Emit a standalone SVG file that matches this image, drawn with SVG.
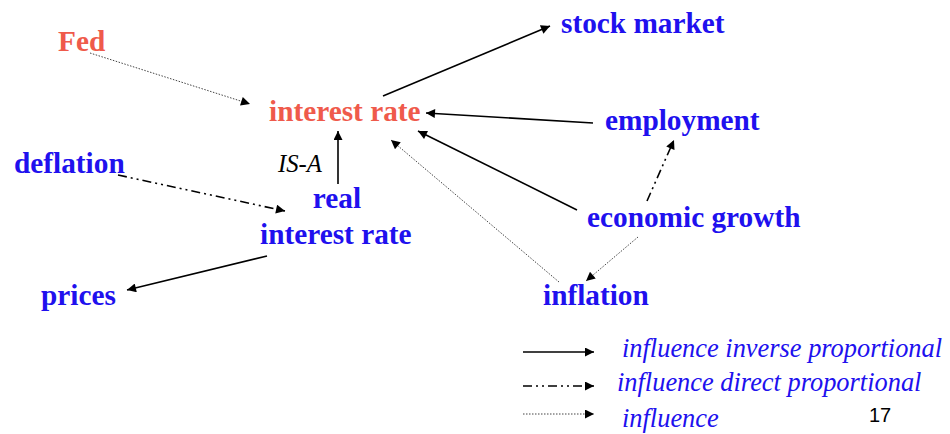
<svg xmlns="http://www.w3.org/2000/svg" width="950" height="434" viewBox="0 0 950 434">
<style>
.n{font-family:"Liberation Serif","Times New Roman",serif;font-weight:bold;font-size:29.3px}
.red{fill:#ef5a4b}
.blue{fill:#2010ee}
.lg{font-family:"Liberation Serif","Times New Roman",serif;font-style:italic;font-size:26.4px;fill:#2010ee}
.solid{stroke:#000;stroke-width:1.6;fill:none}
.dot{stroke:#444;stroke-width:1;stroke-dasharray:1.5 1.5;fill:none}
.dd{stroke:#000;stroke-width:1.6;stroke-dasharray:9 4 2 4 2 4;fill:none}
</style>
<defs>
<marker id="ah" viewBox="0 0 10 10" refX="10" refY="5" markerWidth="10" markerHeight="9" markerUnits="userSpaceOnUse" orient="auto">
<path d="M0,0 L10,5 L0,10 z" fill="#000"/>
</marker>
</defs>
<rect width="950" height="434" fill="#fff"/>
<g id="connectors">
<line class="dot" x1="90" y1="53" x2="250" y2="104" marker-end="url(#ah)"/>
<line class="solid" x1="383" y1="96" x2="550" y2="26" marker-end="url(#ah)"/>
<line class="solid" x1="593" y1="123" x2="426" y2="113" marker-end="url(#ah)"/>
<line class="solid" x1="577" y1="210" x2="418" y2="131" marker-end="url(#ah)"/>
<line class="dot" x1="559" y1="282" x2="391" y2="140" marker-end="url(#ah)"/>
<line class="dd" x1="647" y1="201" x2="674" y2="140" marker-end="url(#ah)"/>
<line class="dot" x1="638" y1="237" x2="586" y2="281" marker-end="url(#ah)"/>
<line class="solid" x1="338" y1="184" x2="338" y2="131" marker-end="url(#ah)"/>
<line class="dd" x1="118" y1="175" x2="285" y2="211" marker-end="url(#ah)"/>
<line class="solid" x1="267" y1="256" x2="127" y2="290" marker-end="url(#ah)"/>
</g>
<g id="fed"><text class="n red" x="58" y="51">Fed</text></g>
<g id="interest-rate"><text class="n red" x="269" y="121">interest rate</text></g>
<g id="stock-market"><text class="n blue" x="561" y="33">stock market</text></g>
<g id="employment"><text class="n blue" x="605" y="130">employment</text></g>
<g id="deflation"><text class="n blue" x="14" y="173">deflation</text></g>
<g id="is-a"><text x="278" y="172" font-family="Liberation Serif, Times New Roman, serif" font-style="italic" font-size="24.7" fill="#000">IS-A</text></g>
<g id="real-interest-rate"><text class="n blue" x="337" y="208" text-anchor="middle">real</text><text class="n blue" x="260" y="244">interest rate</text></g>
<g id="economic-growth"><text class="n blue" x="587" y="227">economic growth</text></g>
<g id="prices"><text class="n blue" x="41" y="305">prices</text></g>
<g id="inflation"><text class="n blue" x="543" y="305">inflation</text></g>
<g id="legend">
<line class="solid" x1="523" y1="352" x2="594" y2="352" marker-end="url(#ah)"/>
<line class="dd" x1="523" y1="386" x2="594" y2="386" marker-end="url(#ah)"/>
<line class="dot" x1="523" y1="414" x2="594" y2="414" marker-end="url(#ah)"/>
<text class="lg" x="622" y="357">influence inverse proportional</text>
<text class="lg" x="617" y="391">influence direct proportional</text>
<text class="lg" x="622" y="427">influence</text>
</g>
<g id="page-number"><text x="869" y="422" font-family="Liberation Sans, Arial, sans-serif" font-size="20" fill="#000">17</text></g>
</svg>
